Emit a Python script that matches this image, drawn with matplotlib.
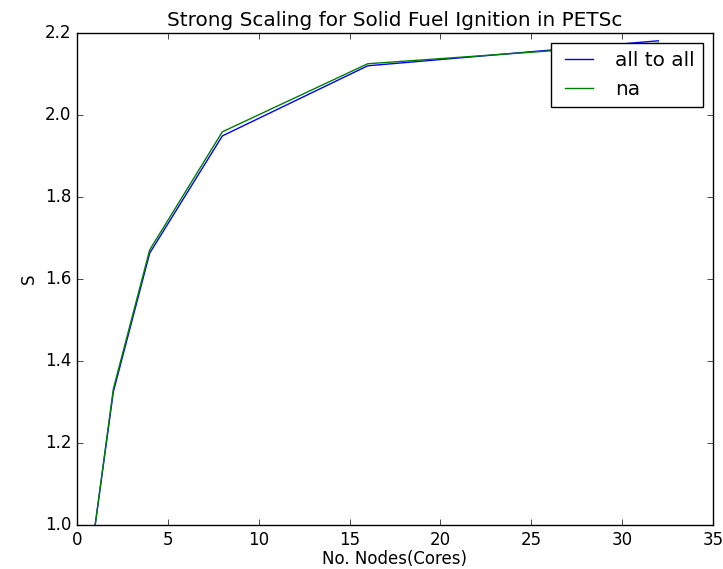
import matplotlib
matplotlib.use('Agg')
import matplotlib.pyplot as plt

plt.style.use('classic')

## node counts and speedup per scheme
nodes = [1, 2, 4, 8, 16, 32]
all_to_all = [1.0, 1.325, 1.663, 1.949, 2.120, 2.181]
na = [1.0, 1.332, 1.671, 1.959, 2.125, 2.175]

fig = plt.figure(figsize=(7.23, 5.69), dpi=100)
ax = fig.add_axes([0.1065, 0.0773, 0.8795, 0.8647])

ax.plot(nodes, all_to_all, label='all to all')
ax.plot(nodes, na, label='na')

ax.set_xlim(0, 35)
ax.set_ylim(1.0, 2.2)
ax.set_xlabel('No. Nodes(Cores)', labelpad=1)
ax.set_ylabel('S')
ax.set_title('Strong Scaling for Solid Fuel Ignition in PETSc')
ax.legend(loc='upper right')

fig.savefig('out.png', dpi=100)
